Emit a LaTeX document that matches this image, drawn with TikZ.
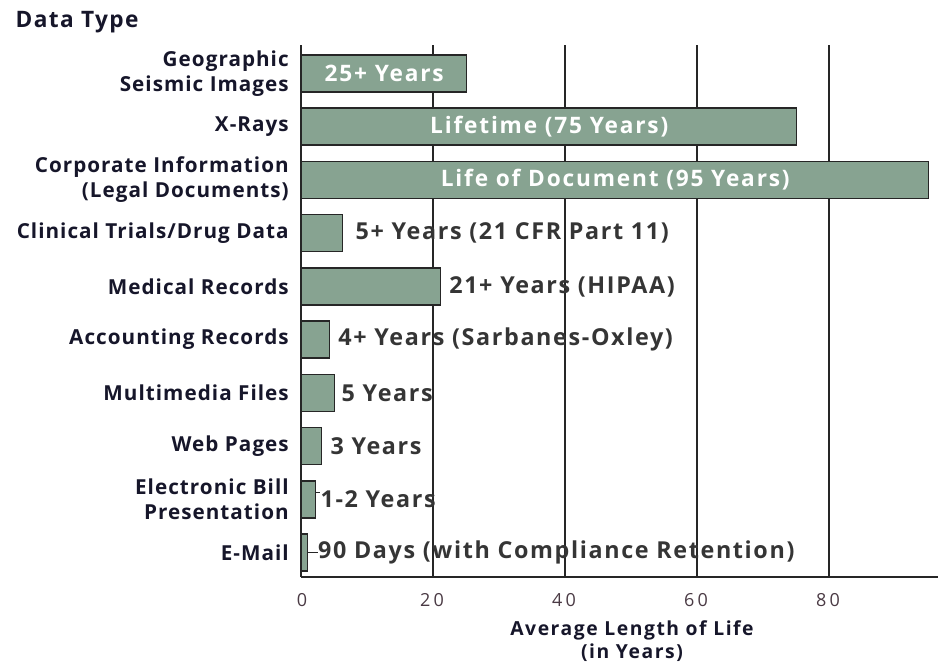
\documentclass[tikz,border=0pt]{standalone}
\usepackage{xcolor}
\usepackage{fontspec}
\setmainfont{Open Sans}
\usepackage{tikz}
\usetikzlibrary{shapes, arrows.meta, positioning}
\definecolor{barfill}{HTML}{87A391}
\definecolor{labeltext}{HTML}{16162A}
\definecolor{valuetext}{HTML}{353535}
\definecolor{ticktext}{HTML}{4A3A44}
\tikzstyle{bar} = [rectangle, draw=black!85, fill=barfill, line width=1.1pt, minimum height=27.75pt, inner sep=0pt, anchor=west, text=white, font=\bfseries\fontsize{17}{19}\selectfont\addfontfeature{LetterSpace=8}]
\tikzstyle{category} = [align=right, text=labeltext, inner sep=0pt, font=\bfseries\fontsize{15.5}{18.5}\selectfont\addfontfeature{LetterSpace=5}]
\tikzstyle{value} = [text=valuetext, inner sep=0pt, font=\bfseries\fontsize{17.5}{19}\selectfont\addfontfeature{LetterSpace=7}]
\tikzstyle{grid} = [line width=1.3pt, draw=black!85]
\tikzstyle{leader} = [line width=1pt, draw=black!85]
\tikzstyle{tick} = [text=ticktext, font=\fontsize{13.5}{15}\selectfont\addfontfeature{LetterSpace=18}]
\tikzstyle{axistitle} = [align=center, text=labeltext, font=\bfseries\fontsize{14.5}{17.5}\selectfont\addfontfeature{LetterSpace=8}]

\begin{document}
\begin{tikzpicture}[x=0.75pt, y=-0.75pt]
\useasboundingbox (0,0) rectangle (938,665);

%Grid==============================================
\draw[grid] (301,45) -- (301,577);
\draw[grid] (433,45) -- (433,577);
\draw[grid] (565,45) -- (565,577);
\draw[grid] (697,45) -- (697,577);
\draw[grid] (829,45) -- (829,577);
\draw[grid] (301,577) -- (938,577);

\node[tick] at (302,600) {0};
\node[tick] at (432,600) {20};
\node[tick] at (564,600) {40};
\node[tick] at (696,600) {60};
\node[tick] at (828,600) {80};

\node (title) [anchor=west, text=labeltext, font=\bfseries\fontsize{17}{19}\selectfont\addfontfeature{LetterSpace=6}] at (11,22) {Data Type};
\node (axis) [axistitle] at (632,641) {Average Length of Life\\(in Years)};

%Bar 1==============================================
\node (bar1) [bar, minimum width=123.75pt] at (301,73.5) {25+ Years};
\node (lab1) [category, left=9pt of bar1] {Geographic\\Seismic Images};

%Bar 2==============================================
\node (bar2) [bar, minimum width=371.25pt] at (301,126.7) {Lifetime (75 Years)};
\node (lab2) [category, left=9pt of bar2] {X-Rays};

%Bar 3==============================================
\node (bar3) [bar, minimum width=470.25pt] at (301,179.9) {Life of Document (95 Years)};
\node (lab3) [category, left=9pt of bar3] {Corporate Information\\(Legal Documents)};

%Bar 4==============================================
\node (bar4) [bar, minimum width=30.7pt] at (301,233.2) {};
\node (lab4) [category, left=9pt of bar4] {Clinical Trials/Drug Data};
\node (val4) [value, right=9pt of bar4] {5+ Years (21 CFR Part 11)};

%Bar 5==============================================
\node (bar5) [bar, minimum width=103.95pt] at (301,286.4) {};
\node (lab5) [category, left=9pt of bar5] {Medical Records};
\node (val5) [value, right=6pt of bar5] {21+ Years (HIPAA)};

%Bar 6==============================================
\node (bar6) [bar, minimum width=20.8pt] at (301,339.6) {};
\node (lab6) [category, left=9pt of bar6] {Accounting Records};
\node (val6) [value, right=6pt of bar6] {4+ Years (Sarbanes-Oxley)};

%Bar 7==============================================
\node (bar7) [bar, minimum width=24.75pt] at (301,392.8) {};
\node (lab7) [category, left=9pt of bar7] {Multimedia Files};
\node (val7) [value, right=4.5pt of bar7] {5 Years};

%Bar 8==============================================
\node (bar8) [bar, minimum width=14.85pt] at (301,446) {};
\node (lab8) [category, left=9pt of bar8] {Web Pages};
\node (val8) [value, right=6pt of bar8] {3 Years};

%Bar 9==============================================
\node (bar9) [bar, minimum width=10.4pt] at (301,499.3) {};
\node (lab9) [category, left=9pt of bar9] {Electronic Bill\\Presentation};
\node (val9) [value, right=3pt of bar9] {1-2 Years};

%Bar 10=============================================
\node (bar10) [bar, minimum width=4.5pt] at (301,552.5) {};
\node (lab10) [category, left=9pt of bar10] {E-Mail};
\node (val10) [value, right=7pt of bar10] {90 Days (with Compliance Retention)};

%==============================================
\draw [leader] ([yshift=5pt]bar9.east) -- ([yshift=5pt]val9.west);
\draw [leader] (bar10.east) -- (val10.west);
\end{tikzpicture}
\end{document}
